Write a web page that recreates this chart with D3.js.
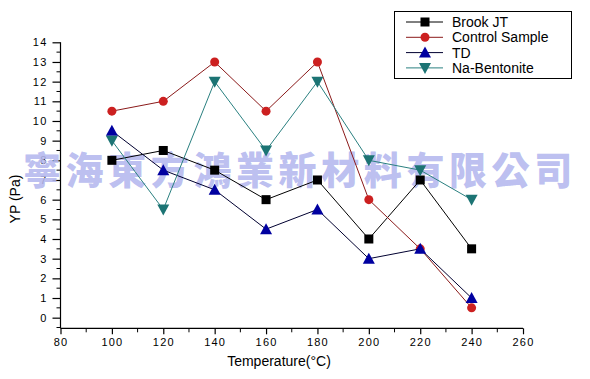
<!DOCTYPE html>
<html><head><meta charset="utf-8">
<script src="https://cdn.jsdelivr.net/npm/d3@7"></script>
<style>body{margin:0;background:#fff;}svg{display:block;font-family:Arial,"Liberation Sans",sans-serif;}</style>
</head><body>
<svg id="c" width="590" height="379"></svg>
<script>
const temps = [100, 120, 140, 160, 180, 200, 220, 240];
const brookJT = [8, 8.5, 7.5, 6, 7, 4, 7, 3.5];
const controlSample = [10.5, 11, 13, 10.5, 13, 6, 3.5, 0.5];
const td = [9.5, 7.5, 6.5, 4.5, 5.5, 3, 3.5, 1];
const naBentonite = [9, 5.5, 12, 8.5, 12, 8, 7.5, 6];
const xTicks = [80, 100, 120, 140, 160, 180, 200, 220, 240, 260];
const yTicks = [0,1,2,3,4,5,6,7,8,9,10,11,12,13,14];
const seriesNames = ["Brook JT", "Control Sample", "TD", "Na-Bentonite"];
const watermark = "寧海東方鴻業新材料有限公司";

const series = [
  {name: seriesNames[0], values: brookJT, line: "#000000", fill: "#000000", sym: "square"},
  {name: seriesNames[1], values: controlSample, line: "#8b1a1a", fill: "#cc2020", sym: "circle"},
  {name: seriesNames[2], values: td, line: "#000030", fill: "#0000a0", sym: "up"},
  {name: seriesNames[3], values: naBentonite, line: "#2a8080", fill: "#1c7474", sym: "down"}
];

const svg = d3.select("#c");
const x = d3.scaleLinear().domain([80, 260]).range([60.5, 523]);
const y = d3.scaleLinear().domain([-0.54, 14]).range([328.3, 42.3]);

// axes
const xAxis = d3.axisBottom(x).tickValues(xTicks).tickSize(6).tickPadding(4).tickFormat(d3.format("d"));
const gx = svg.append("g").attr("transform", "translate(0,328.3)").call(xAxis);
gx.select(".domain").attr("d", `M${x(80)},0H${x(260)}`);
const xMinor = d3.range(90, 260, 20);
gx.selectAll(".minor").data(xMinor).enter().append("line")
  .attr("x1", d => x(d)).attr("x2", d => x(d)).attr("y1", 0).attr("y2", 4).attr("stroke", "#000");

const yAxis = d3.axisLeft(y).tickValues(yTicks).tickSize(8).tickPadding(5);
const gy = svg.append("g").attr("transform", "translate(60.5,0)").call(yAxis);
gy.select(".domain").attr("d", `M0,${y(14)}V${y(-0.54)}`);
const yMinor = d3.range(-0.5, 14, 1);
gy.selectAll(".minor").data(yMinor).enter().append("line")
  .attr("x1", -4).attr("x2", 0).attr("y1", d => y(d)).attr("y2", d => y(d)).attr("stroke", "#000");

svg.selectAll(".tick text").attr("font-size", 11).attr("font-family", "Arial, 'Liberation Sans', sans-serif").attr("letter-spacing", 1.2).attr("fill", "#000");
svg.selectAll(".domain, .tick line").attr("stroke", "#000").attr("stroke-width", 1.2);

svg.append("text").attr("x", 279).attr("y", 366).attr("text-anchor", "middle").attr("font-size", 14).text("Temperature(°C)");
svg.append("text").attr("transform", "translate(20,199) rotate(-90)").attr("text-anchor", "middle").attr("font-size", 14).text("YP (Pa)");

// watermark
const wm = svg.append("g");
watermark.split("").forEach((ch, i) => {
  wm.append("text").attr("x", 42 + i * 42.6).attr("y", 184).attr("text-anchor", "middle")
    .attr("font-family", "'Noto Sans CJK TC','Noto Sans CJK SC',sans-serif").attr("font-weight", 900)
    .attr("font-size", 38).attr("fill", "#b4b8ee").attr("fill-opacity", 0.9).text(ch);
});

function drawSym(g, sym, cx, cy, fill) {
  if (sym === "square") g.append("rect").attr("x", cx - 4.5).attr("y", cy - 4.5).attr("width", 9).attr("height", 9).attr("fill", fill);
  else if (sym === "circle") g.append("circle").attr("cx", cx).attr("cy", cy).attr("r", 4.5).attr("fill", fill);
  else if (sym === "up") g.append("path").attr("d", `M${cx},${cy-6}L${cx+6},${cy+5}L${cx-6},${cy+5}Z`).attr("fill", fill);
  else g.append("path").attr("d", `M${cx},${cy+6}L${cx+6},${cy-5}L${cx-6},${cy-5}Z`).attr("fill", fill);
}

const line = d3.line().x((d, i) => x(temps[i])).y(d => y(d));
series.forEach(s => {
  const g = svg.append("g");
  g.append("path").attr("d", line(s.values)).attr("fill", "none").attr("stroke", s.line).attr("stroke-width", 1);
  s.values.forEach((v, i) => drawSym(g, s.sym, x(temps[i]), y(v), s.fill));
});

// legend
const lg = svg.append("g");
lg.append("rect").attr("x", 394.5).attr("y", 11.5).attr("width", 177).attr("height", 67).attr("fill", "#fff").attr("stroke", "#000").attr("stroke-width", 1);
series.forEach((s, i) => {
  const cy = 22 + i * 15.3;
  lg.append("line").attr("x1", 406).attr("x2", 443).attr("y1", cy).attr("y2", cy).attr("stroke", s.line).attr("stroke-width", 1);
  drawSym(lg, s.sym, 425, cy, s.fill);
  lg.append("text").attr("x", 452).attr("y", cy + 5).attr("font-size", 14).text(s.name);
});
</script>
</body></html>
